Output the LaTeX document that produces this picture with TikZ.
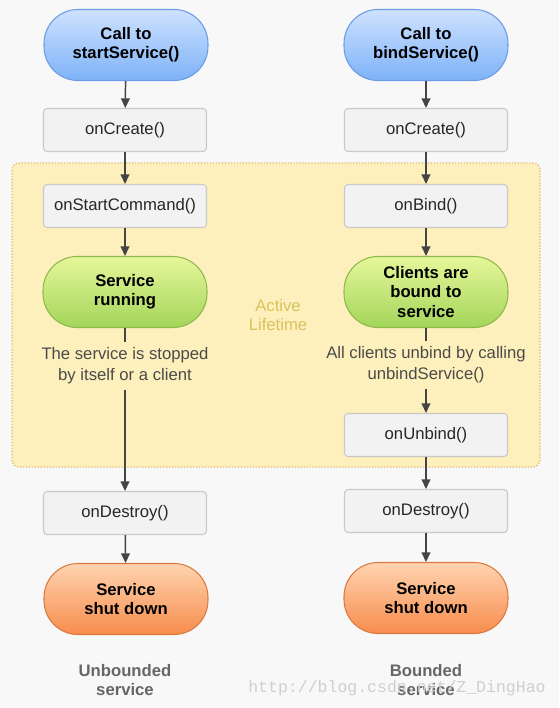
\documentclass[tikz,border=0pt]{standalone}
\usepackage{fontspec}
\setmainfont{Liberation Sans}
\newfontfamily\wmfont{Liberation Mono}
\usetikzlibrary{positioning,arrows.meta}

\definecolor{bggray}{HTML}{F8F8F8}
\definecolor{calltop}{HTML}{CFE2FF}
\definecolor{callbot}{HTML}{7DB2F7}
\definecolor{callline}{HTML}{6A9BE6}
\definecolor{runtop}{HTML}{E6F79A}
\definecolor{runbot}{HTML}{A3D55A}
\definecolor{runline}{HTML}{8DB84C}
\definecolor{downtop}{HTML}{FFD3B0}
\definecolor{downbot}{HTML}{F78D4C}
\definecolor{downline}{HTML}{D9793F}
\definecolor{boxfill}{HTML}{F2F2F2}
\definecolor{boxline}{HTML}{C9C9C9}
\definecolor{lifefill}{HTML}{FEF0BC}
\definecolor{lifeline}{HTML}{E6B566}
\definecolor{lifetext}{HTML}{D8C35E}
\definecolor{arrowgray}{HTML}{444444}
\definecolor{notegray}{HTML}{4A4A4A}
\definecolor{kindgray}{HTML}{666666}
\definecolor{wmgray}{HTML}{CFCFCF}

\tikzset{
    basefont/.style={font=\fontsize{9.5pt}{11pt}\selectfont},
    pill/.style={rectangle, rounded corners=0.68cm, minimum width=3.28cm,
        minimum height=1.42cm, align=center, line width=0.6pt,
        font=\fontsize{9.5pt}{11pt}\selectfont\bfseries},
    callpill/.style={pill, draw=callline, top color=calltop, bottom color=callbot},
    runpill/.style={pill, draw=runline, top color=runtop, bottom color=runbot},
    downpill/.style={pill, draw=downline, top color=downtop, bottom color=downbot},
    stepbox/.style={basefont, rectangle, draw=boxline, fill=boxfill, rounded corners=2pt,
        minimum width=3.26cm, minimum height=0.86cm, line width=0.6pt, text=black!85},
    note/.style={basefont, align=center, text=notegray, inner sep=3pt,
        font=\fontsize{9.5pt}{12pt}\selectfont},
    kind/.style={align=center, text=kindgray, font=\fontsize{9.5pt}{11pt}\selectfont\bfseries},
    arr/.style={-{Triangle[length=5.5pt,width=5pt]}, draw=arrowgray, line width=0.85pt},
    link/.style={draw=arrowgray, line width=0.85pt},
}

\begin{document}
\begin{tikzpicture}[x=0.02cm, y=-0.02cm]
    \useasboundingbox (0,0) rectangle (559,708);
    \fill [bggray] (0,0) rectangle (559,708);

    % Active lifetime area
    \draw [fill=lifefill, draw=lifeline, densely dotted, line width=0.7pt, rounded corners=4pt]
        (12,163) rectangle (540,467);
    \node [text=lifetext, align=center, font=\fontsize{9.5pt}{11pt}\selectfont] (active) at (278,315) {Active\\Lifetime};

    % Unbounded service
    \node [callpill] (call1) at (126,45) {Call to\\startService()};
    \node [stepbox] (create1) at (125,130) {onCreate()};
    \node [stepbox] (start1) at (125,206) {onStartCommand()};
    \node [runpill] (run1) at (125,292) {Service\\running};
    \node [note] (stop1) at (125,366) {The service is stopped\\by itself or a client};
    \node [stepbox] (destroy1) at (125,513) {onDestroy()};
    \node [downpill] (down1) at (126,599) {Service\\shut down};
    \node [kind] (kind1) at (125,680) {Unbounded\\service};

    \draw [arr] (call1) -- (create1);
    \draw [arr] (create1) -- (start1);
    \draw [arr] (start1) -- (run1);
    \draw [link] (run1) -- (stop1);
    \draw [arr] (stop1) -- (destroy1);
    \draw [arr] (destroy1) -- (down1);

    % Bounded service
    \node [callpill] (call2) at (426,45) {Call to\\bindService()};
    \node [stepbox] (create2) at (426,130) {onCreate()};
    \node [stepbox] (bind2) at (426,206) {onBind()};
    \node [runpill] (bound2) at (426,292) {Clients are\\bound to\\service};
    \node [note] (unbindnote2) at (426,365) {All clients unbind by calling\\unbindService()};
    \node [stepbox] (unbind2) at (426,435) {onUnbind()};
    \node [stepbox] (destroy2) at (426,511) {onDestroy()};
    \node [downpill] (down2) at (426,598) {Service\\shut down};
    \node [kind] (kind2) at (426,680) {Bounded\\service};

    \draw [arr] (call2) -- (create2);
    \draw [arr] (create2) -- (bind2);
    \draw [arr] (bind2) -- (bound2);
    \draw [link] (bound2) -- (unbindnote2);
    \draw [arr] (unbindnote2) -- (unbind2);
    \draw [arr] (unbind2) -- (destroy2);
    \draw [arr] (destroy2) -- (down2);

    % watermark
    \node [text=wmgray, font=\wmfont\fontsize{9.4pt}{11pt}\selectfont] (wm) at (397,688) {http://blog.csdn.net/Z\_DingHao};
\end{tikzpicture}
\end{document}
